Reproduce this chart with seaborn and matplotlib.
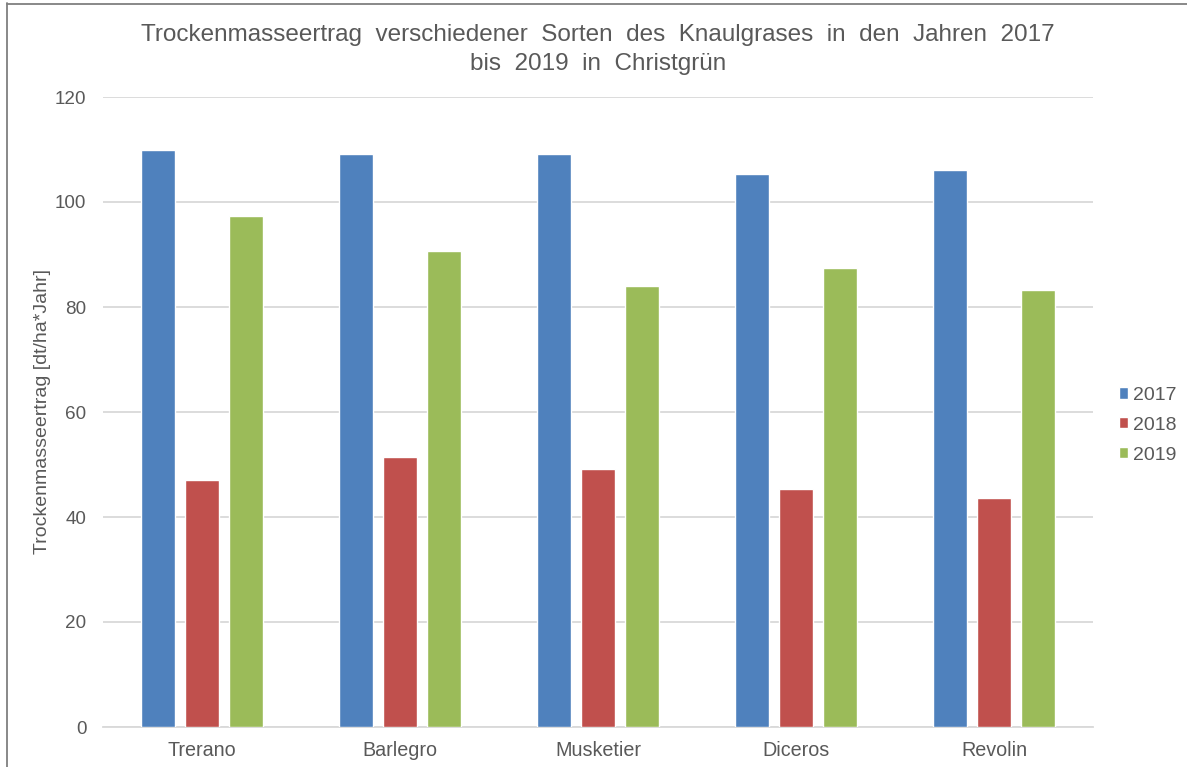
import matplotlib
matplotlib.use("Agg")
import matplotlib.pyplot as plt
import seaborn as sns
import pandas as pd

sorten = ["Trerano", "Barlegro", "Musketier", "Diceros", "Revolin"]
jahre = ["2017", "2018", "2019"]
ertrag_2017 = [110.0, 109.2, 109.2, 105.3, 106.1]
ertrag_2018 = [47.0, 51.4, 49.1, 45.3, 43.6]
ertrag_2019 = [97.3, 90.7, 84.0, 87.5, 83.2]
farben = ["#4F81BD", "#C0504D", "#9BBB59"]
y_ticks = [0, 20, 40, 60, 80, 100, 120]

df = pd.DataFrame({
    "Sorte": sorten * 3,
    "Jahr": [jahre[0]] * 5 + [jahre[1]] * 5 + [jahre[2]] * 5,
    "Ertrag": ertrag_2017 + ertrag_2018 + ertrag_2019,
})

sns.set_theme(style="white")
plt.rcParams["font.family"] = ["Liberation Sans", "DejaVu Sans"]
grau = "#595959"

fig = plt.figure(figsize=(11.87, 7.67), dpi=100)
ax = fig.add_axes([103 / 1187, 1 - 727 / 767, 990 / 1187, 630 / 767])

sns.barplot(data=df, x="Sorte", y="Ertrag", hue="Jahr", order=sorten,
            hue_order=jahre, palette=farben, width=0.66, gap=0.22,
            saturation=1, ax=ax, zorder=3)

ax.set_xlim(-0.5, 4.5)
ax.set_ylim(0, 120)
ax.set_yticks(y_ticks)
ax.yaxis.grid(True, color="#D9D9D9", linewidth=1.3, zorder=0)
ax.set_axisbelow(True)
for s in ["top", "right", "left"]:
    ax.spines[s].set_visible(False)
ax.spines["bottom"].set_color("#D9D9D9")
ax.spines["bottom"].set_linewidth(1.3)
ax.tick_params(axis="x", length=0, labelsize=14.2, labelcolor=grau, pad=10)
ax.tick_params(axis="y", length=0, labelsize=13.6, labelcolor=grau, pad=12)
ax.set_xlabel("")
ax.set_ylabel("Trockenmasseertrag [dt/ha*Jahr]", fontsize=14, color=grau, labelpad=2.5)

fig.text(598 / 1187, 1 - 49.5 / 767,
         "Trockenmasseertrag  verschiedener  Sorten  des  Knaulgrases  in  den  Jahren  2017\nbis  2019  in  Christgrün",
         ha="center", va="center", fontsize=17.5, color=grau, linespacing=1.38)

leg = ax.legend(loc="center left", bbox_to_anchor=(1.018, 0.479), frameon=False,
                fontsize=14, handlelength=0.5, handleheight=0.5, handletextpad=0.25,
                labelspacing=0.66, labelcolor=grau, borderaxespad=0)

# Rahmen
fig.add_artist(plt.Line2D([7 / 1187, 7 / 1187], [0, 1 - 3 / 767], transform=fig.transFigure,
                          color="#7F7F7F", linewidth=1.3))
fig.add_artist(plt.Line2D([7 / 1187, 1], [1 - 3.5 / 767, 1 - 3.5 / 767], transform=fig.transFigure,
                          color="#7F7F7F", linewidth=1.3))

fig.savefig("out.png", dpi=100)
